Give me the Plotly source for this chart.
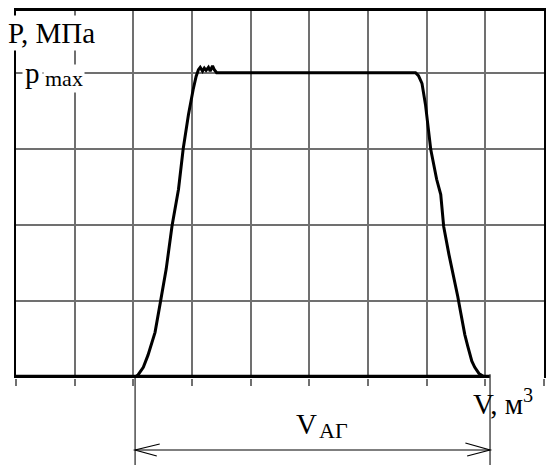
import plotly.graph_objects as go

# ---- data (grid units: x in V divisions, y in P divisions; p_max = 4) ----
curve_x = [0.0, 2.03, 2.08, 2.17, 2.25, 2.32, 2.37, 2.46, 2.56, 2.66, 2.77, 2.85, 2.94, 3.02, 3.07,
           3.11, 3.14, 3.18, 3.21, 3.24, 3.28, 3.31, 3.35, 3.38, 3.42,
           6.81, 6.86, 6.92, 6.98, 7.07, 7.17, 7.24, 7.29, 7.38, 7.46, 7.53, 7.58, 7.65, 7.70,
           7.77, 7.82, 7.89, 7.97, 8.08]
curve_p = [0.0, 0.0, 0.03, 0.13, 0.29, 0.46, 0.59, 0.98, 1.42, 1.99, 2.47, 3.00, 3.45, 3.78, 3.95,
           4.04, 4.07, 4.02, 4.06, 4.03, 4.07, 4.02, 4.09, 4.04, 4.00,
           4.00, 3.96, 3.86, 3.58, 2.99, 2.60, 2.40, 1.98, 1.61, 1.33, 1.06, 0.85, 0.56, 0.41,
           0.21, 0.13, 0.05, 0.01, 0.0]
baseline_x = [0.0, 8.08]
baseline_p = [0.0, 0.0]

x_range = [0, 9]
y_range = [-0.01, 4.81]
dim_start = 2.03   # start of V_AG
dim_end = 8.08     # end of V_AG

FONT = "Liberation Serif, Times New Roman, serif"

fig = go.Figure()
fig.add_trace(go.Scatter(x=baseline_x, y=baseline_p, mode="lines",
                         line=dict(color="black", width=5), hoverinfo="skip", showlegend=False))
fig.add_trace(go.Scatter(x=curve_x, y=curve_p, mode="lines",
                         line=dict(color="black", width=3), hoverinfo="skip", showlegend=False))

# top border via overlaying axis
fig.add_trace(go.Scatter(x=[0], y=[0], xaxis="x2", mode="markers", marker=dict(opacity=0),
                         hoverinfo="skip", showlegend=False))

grid_c = "#707070"
fig.update_layout(
    width=552, height=465,
    margin=dict(l=16, r=8, t=11, b=87, autoexpand=False),
    plot_bgcolor="white", paper_bgcolor="white",
    showlegend=False,
    font=dict(family=FONT, color="black"),
    xaxis=dict(range=x_range, dtick=1, tick0=0, showgrid=True, gridcolor=grid_c, gridwidth=1.5,
               zeroline=False, showline=False, ticks="outside", ticklen=7, tickcolor=grid_c,
               tickwidth=1.5, showticklabels=False, fixedrange=True),
    xaxis2=dict(range=x_range, overlaying="x", side="top", showgrid=False, zeroline=False,
                showline=True, linecolor="black", linewidth=3, showticklabels=False, ticks="",
                fixedrange=True),
    yaxis=dict(range=y_range, dtick=1, tick0=0, showgrid=True, gridcolor=grid_c, gridwidth=1.5,
               zeroline=False, showline=True, linecolor="black", linewidth=2, mirror=True,
               ticks="", showticklabels=False, fixedrange=True),
)

H = 367.0
W = 528.0
def px(xp):
    return (xp - 16) / W
def py(yp):
    return (378 - yp) / H

arrow_y = py(450)
bottom_y = py(465)
shapes = [
    dict(type="line", xref="x", yref="paper", x0=dim_start, x1=dim_start, y0=0, y1=bottom_y,
         line=dict(color="#333", width=1.3)),
    dict(type="line", xref="x", yref="paper", x0=dim_end, x1=dim_end, y0=0.01, y1=bottom_y,
         line=dict(color="#333", width=1.3)),
    dict(type="line", xref="x", yref="paper", x0=dim_start, x1=dim_end, y0=arrow_y, y1=arrow_y,
         line=dict(color="black", width=1.2)),
    dict(type="path", xref="x", yref="paper",
         path=f"M {dim_start + 0.42} {py(444)} L {dim_start} {arrow_y} L {dim_start + 0.37} {py(456)}",
         line=dict(color="black", width=1.2)),
    dict(type="path", xref="x", yref="paper",
         path=f"M {dim_end - 0.42} {py(443)} L {dim_end} {arrow_y} L {dim_end - 0.39} {py(456)}",
         line=dict(color="black", width=1.2)),
]
fig.update_layout(shapes=shapes)

ann = [
    dict(text="P, МПа", x=px(6), y=py(33), xanchor="left", yanchor="middle",
         font=dict(family=FONT, size=29, color="black"), bgcolor="white", borderpad=1),
    dict(text="p", x=px(22), y=py(73), xanchor="left", yanchor="middle",
         font=dict(family=FONT, size=29, color="black"), bgcolor="white", borderpad=2),
    dict(text="max", x=px(43), y=py(78), xanchor="left", yanchor="middle",
         font=dict(family=FONT, size=22, color="black"), bgcolor="white", borderpad=1),
    dict(text="V, м<sup>3</sup>", x=px(471), y=py(402), xanchor="left", yanchor="middle",
         font=dict(family=FONT, size=29, color="black")),
    dict(text="V", x=px(294), y=py(424), xanchor="left", yanchor="middle",
         font=dict(family=FONT, size=29, color="black")),
    dict(text="АГ", x=px(317), y=py(430), xanchor="left", yanchor="middle",
         font=dict(family=FONT, size=22, color="black")),
]
for a in ann:
    a.update(xref="paper", yref="paper", showarrow=False)
fig.update_layout(annotations=ann)

fig.write_html("out.html", config={"displayModeBar": False},
               post_script="document.body.style.margin='0px';")
